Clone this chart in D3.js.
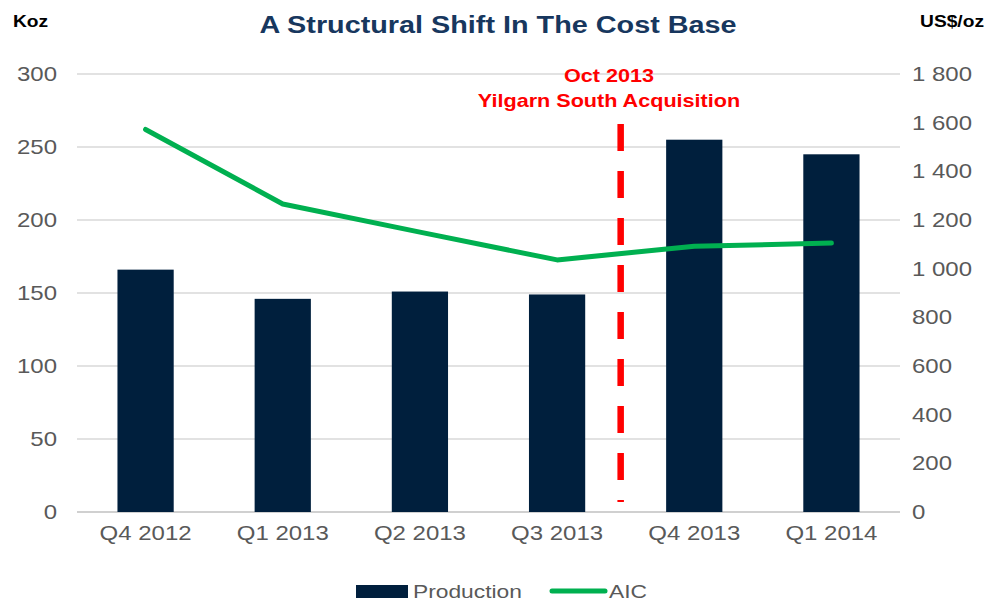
<!DOCTYPE html>
<html>
<head>
<meta charset="utf-8">
<title>A Structural Shift In The Cost Base</title>
<style>
  body { margin: 0; background: #fff; }
  svg { display: block; font-family: "Liberation Sans", Arial, sans-serif; }
</style>
</head>
<body>
<div id="chart"></div>
<script src="https://d3js.org/d3.v7.min.js"></script>
<script>
var quarters   = ["Q4 2012", "Q1 2013", "Q2 2013", "Q3 2013", "Q4 2013", "Q1 2014"];
var production = [166, 146, 151, 149, 255, 245];
var aic        = [1572, 1266, 1150, 1036, 1092, 1105];
var leftTicks  = [0, 50, 100, 150, 200, 250, 300];
var rightTicks = [0, 200, 400, 600, 800, 1000, 1200, 1400, 1600, 1800];

var width = 988, height = 603;
var margin = {left: 77, right: 88, top: 74, bottom: 91};
var stretch = 1.2; // the original text is drawn a bit wide

var svg = d3.select("#chart").append("svg")
    .attr("width", width)
    .attr("height", height);

var x = d3.scaleBand()
    .domain(quarters)
    .range([margin.left, width - margin.right])
    .paddingInner(0.59)
    .paddingOuter(0.295);

var yL = d3.scaleLinear().domain([0, 300]).range([height - margin.bottom, margin.top]);
var yR = d3.scaleLinear().domain([0, 1800]).range([height - margin.bottom, margin.top]);

// place a wide text at (px, py)
function wideText(px, py) {
  return svg.append("text")
      .attr("transform", "translate(" + px + "," + py + ") scale(" + stretch + ",1)");
}

// gridlines
svg.append("g")
  .selectAll("line")
  .data(leftTicks)
  .join("line")
    .attr("x1", margin.left)
    .attr("x2", width - margin.right)
    .attr("y1", function(d){ return yL(d); })
    .attr("y2", function(d){ return yL(d); })
    .attr("stroke", function(d){ return d === 0 ? "#d0d0d0" : "#d9d9d9"; })
    .attr("stroke-width", function(d){ return d === 0 ? 2 : 1.5; });

function styleTicks(g) {
  g.select(".domain").remove();
  g.selectAll("text")
      .attr("fill", "#595959")
      .attr("transform", "scale(" + stretch + ",1)")
      .style("font-size", "20px")
      .style("font-family", "Liberation Sans, Arial, sans-serif");
}

// left axis
svg.append("g")
    .attr("transform", "translate(" + (margin.left - 20) + ",0)")
    .call(d3.axisLeft(yL).tickValues(leftTicks).tickSize(0).tickPadding(0))
    .call(styleTicks);

// right axis
var fmt = function(d){ return d3.format(",")(d).replace(/,/g, " "); };
svg.append("g")
    .attr("transform", "translate(" + (width - margin.right + 12) + ",0)")
    .call(d3.axisRight(yR).tickValues(rightTicks).tickFormat(fmt).tickSize(0).tickPadding(0))
    .call(styleTicks);

// x axis labels
svg.append("g")
    .attr("transform", "translate(0," + (height - margin.bottom + 14) + ")")
    .call(d3.axisBottom(x).tickSize(0).tickPadding(0))
    .call(styleTicks);

// bars
svg.append("g")
  .selectAll("rect")
  .data(production)
  .join("rect")
    .attr("x", function(d, i){ return x(quarters[i]); })
    .attr("y", function(d){ return yL(d); })
    .attr("width", x.bandwidth())
    .attr("height", function(d){ return yL(0) - yL(d); })
    .attr("fill", "#001f3d");

// acquisition marker between Q3 2013 and Q4 2013
var markX = x("Q3 2013") + x.bandwidth() + (x.step() - x.bandwidth()) / 2 - 5;
svg.append("line")
    .attr("x1", markX).attr("x2", markX)
    .attr("y1", 124).attr("y2", 502)
    .attr("stroke", "#ff0000")
    .attr("stroke-width", 6.5)
    .attr("stroke-dasharray", "27,20");

wideText(609, 82)
    .attr("text-anchor", "middle")
    .attr("fill", "#ff0000")
    .style("font-size", "18px")
    .style("font-weight", "bold")
    .text("Oct 2013");
wideText(609, 107)
    .attr("text-anchor", "middle")
    .attr("fill", "#ff0000")
    .style("font-size", "18px")
    .style("font-weight", "bold")
    .text("Yilgarn South Acquisition");

// AIC line
var line = d3.line()
    .x(function(d, i){ return x(quarters[i]) + x.bandwidth() / 2; })
    .y(function(d){ return yR(d); });
svg.append("path")
    .datum(aic)
    .attr("d", line)
    .attr("fill", "none")
    .attr("stroke", "#00b050")
    .attr("stroke-width", 5)
    .attr("stroke-linejoin", "round")
    .attr("stroke-linecap", "round");

// titles
wideText(498, 33)
    .attr("text-anchor", "middle")
    .attr("fill", "#17375e")
    .style("font-size", "24px")
    .style("font-weight", "bold")
    .text("A Structural Shift In The Cost Base");
wideText(13, 27)
    .attr("fill", "#000")
    .style("font-size", "16px")
    .style("font-weight", "bold")
    .text("Koz");
wideText(984, 27)
    .attr("text-anchor", "end")
    .attr("fill", "#000")
    .style("font-size", "16px")
    .style("font-weight", "bold")
    .text("US$/oz");

// legend
svg.append("rect")
    .attr("x", 356).attr("y", 585).attr("width", 52).attr("height", 13)
    .attr("fill", "#001f3d");
wideText(413, 598)
    .attr("fill", "#595959")
    .style("font-size", "19px")
    .text("Production");
svg.append("line")
    .attr("x1", 552).attr("x2", 605).attr("y1", 591).attr("y2", 591)
    .attr("stroke", "#00b050")
    .attr("stroke-width", 5)
    .attr("stroke-linecap", "round");
wideText(609, 598)
    .attr("fill", "#595959")
    .style("font-size", "19px")
    .text("AIC");
</script>
</body>
</html>
